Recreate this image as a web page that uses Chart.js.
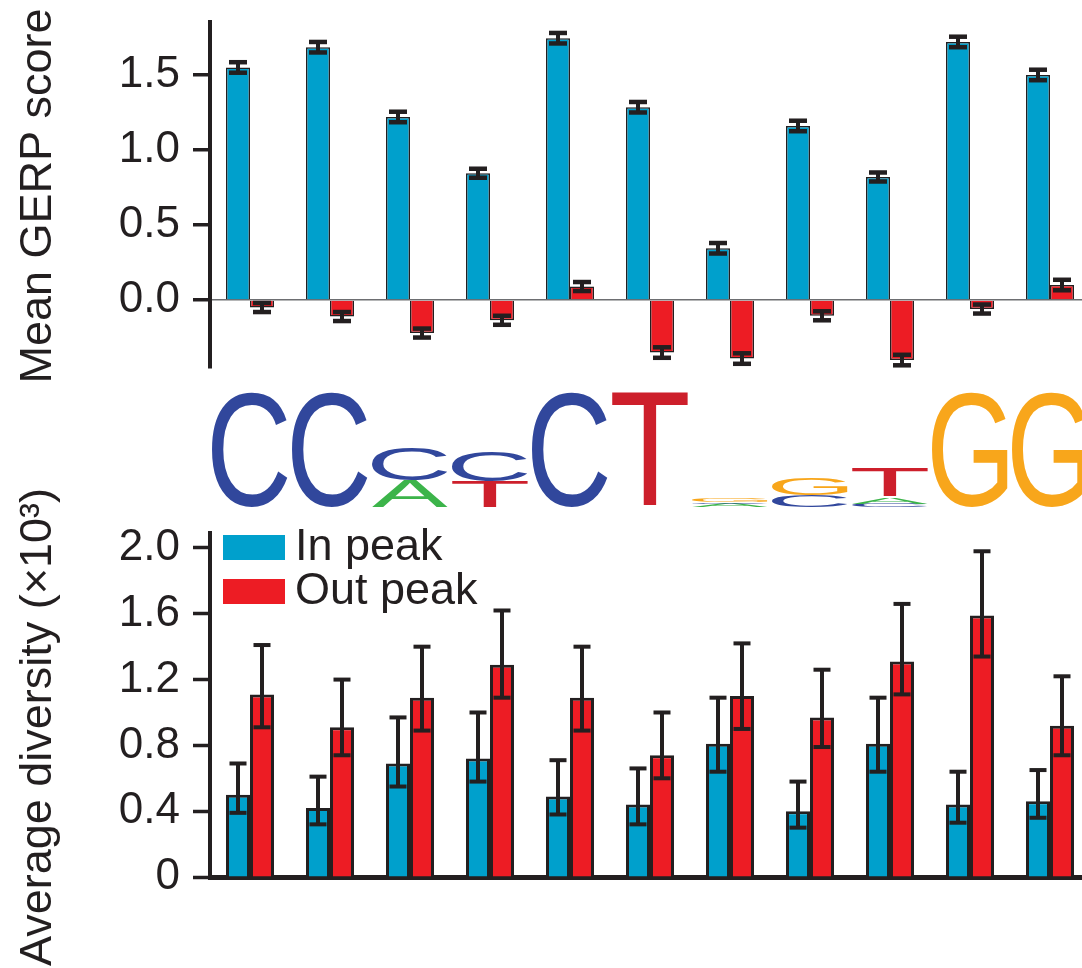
<!DOCTYPE html>
<html>
<head>
<meta charset="utf-8">
<script src="https://cdn.jsdelivr.net/npm/chart.js@4.4.1/dist/chart.umd.min.js"></script>
<style>
  html, body { margin: 0; padding: 0; background: #fff; overflow: hidden; }
  #wrap { position: relative; width: 1090px; height: 968px; }
  #topBox { position: absolute; left: 0; top: 0; width: 1090px; height: 400px; }
  #botBox { position: absolute; left: 0; top: 380px; width: 1090px; height: 588px; }
</style>
</head>
<body>
<div id="wrap">
  <div id="topBox"><canvas id="gerpChart"></canvas></div>
  <div id="botBox"><canvas id="divChart"></canvas></div>
</div>
<script>
// motif positions (11 columns)
const positions = ['1', '2', '3', '4', '5', '6', '7', '8', '9', '10', '11'];

// top panel: mean GERP score
const gerpIn = [1.55, 1.685, 1.22, 0.845, 1.745, 1.285, 0.345, 1.16, 0.82, 1.72, 1.50];
const gerpOut = [-0.05, -0.11, -0.22, -0.135, 0.09, -0.35, -0.39, -0.105, -0.40, -0.06, 0.10];
const gerpInErr = [0.035, 0.035, 0.035, 0.03, 0.035, 0.035, 0.035, 0.035, 0.03, 0.035, 0.035];
const gerpOutErr = [0.03, 0.03, 0.03, 0.03, 0.03, 0.035, 0.035, 0.03, 0.035, 0.03, 0.035];
const gerpTicks = [0, 0.5, 1.0, 1.5];
const gerpTickLabels = ['0.0', '0.5', '1.0', '1.5'];

// bottom panel: average diversity (x10^3) with interval bounds
const divIn = [0.50, 0.42, 0.69, 0.72, 0.49, 0.44, 0.81, 0.40, 0.81, 0.44, 0.46];
const divInLow = [0.39, 0.32, 0.55, 0.58, 0.38, 0.32, 0.64, 0.30, 0.64, 0.33, 0.36];
const divInHigh = [0.69, 0.61, 0.97, 1.00, 0.71, 0.66, 1.09, 0.58, 1.09, 0.64, 0.65];
const divOut = [1.11, 0.91, 1.09, 1.29, 1.09, 0.74, 1.10, 0.97, 1.31, 1.59, 0.92];
const divOutLow = [0.91, 0.74, 0.89, 1.09, 0.89, 0.60, 0.90, 0.79, 1.11, 1.34, 0.74];
const divOutHigh = [1.41, 1.20, 1.40, 1.62, 1.40, 1.00, 1.42, 1.26, 1.66, 1.98, 1.22];
const divTicks = [0, 0.4, 0.8, 1.2, 1.6, 2.0];
const divTickLabels = ['0', '0.4', '0.8', '1.2', '1.6', '2.0'];

// sequence logo, letters bottom to top, heights in bits
const logoLetters = [['C'], ['C'], ['A', 'C'], ['T', 'C'], ['C'], ['T'], ['A', 'C', 'G'], ['C', 'G'], ['C', 'A', 'T'], ['G'], ['G']];
const logoBits = [[2.0], [2.0], [0.47, 0.57], [0.45, 0.52], [2.0], [2.0], [0.06, 0.03, 0.06], [0.2, 0.3], [0.06, 0.12, 0.5], [2.0], [2.0]];
const letterColors = { A: '#3cb44a', C: '#31479c', G: '#f8a61b', T: '#cd1f2b' };

const BLUE = '#00a0cc';
const RED = '#ed1c24';
const INK = '#231f20';
const FONT = '"Liberation Sans", Arial, Helvetica, sans-serif';

function errorBarPlugin(lows, highs, style) {
  return {
    id: 'errorBars',
    afterDatasetsDraw(chart) {
      const ctx = chart.ctx;
      const y = chart.scales.y;
      ctx.save();
      ctx.fillStyle = INK;
      chart.data.datasets.forEach((ds, d) => {
        chart.getDatasetMeta(d).data.forEach((bar, i) => {
          const yHi = y.getPixelForValue(highs[d][i]);
          const yLo = y.getPixelForValue(lows[d][i]);
          ctx.fillRect(bar.x - style.line / 2, yHi, style.line, yLo - yHi);
          ctx.fillRect(bar.x - style.cap / 2, yHi - style.thick / 2, style.cap, style.thick);
          ctx.fillRect(bar.x - style.cap / 2, yLo - style.thick / 2, style.cap, style.thick);
        });
      });
      ctx.restore();
    }
  };
}

function axisTitlePlugin(text, x, y) {
  return {
    id: 'axisTitle',
    afterDraw(chart) {
      const ctx = chart.ctx;
      ctx.save();
      ctx.translate(x, y);
      ctx.rotate(-Math.PI / 2);
      ctx.font = '45px ' + FONT;
      ctx.fillStyle = INK;
      ctx.textAlign = 'center';
      ctx.textBaseline = 'alphabetic';
      ctx.fillText(text, 0, 0);
      ctx.restore();
    }
  };
}

function yAxis(min, max, ticks, labels) {
  return {
    min: min,
    max: max,
    afterBuildTicks: (scale) => { scale.ticks = ticks.map(v => ({ value: v })); },
    afterFit: (scale) => {
      scale.width = 210;
      scale.paddingTop = 0;
      scale.paddingBottom = 0;
    },
    border: { display: true, width: 4, color: INK },
    grid: {
      drawOnChartArea: true,
      color: (c) => (c.tick && c.tick.value === 0 ? '#6d6e71' : 'rgba(0,0,0,0)'),
      lineWidth: 1.5,
      tickLength: 17,
      tickWidth: 3.5,
      tickColor: INK
    },
    ticks: {
      autoSkip: false,
      padding: 13,
      color: INK,
      font: { family: FONT, size: 44 },
      callback: (v, i) => labels[i]
    }
  };
}

const topIn = gerpIn.map((v, i) => v + gerpInErr[i]);
const botIn = gerpIn.map((v, i) => v - gerpInErr[i]);
const topOut = gerpOut.map((v, i) => v + gerpOutErr[i]);
const botOut = gerpOut.map((v, i) => v - gerpOutErr[i]);

new Chart(document.getElementById('gerpChart'), {
  type: 'bar',
  data: {
    labels: positions,
    datasets: [
      { label: 'In peak', data: gerpIn, backgroundColor: BLUE, borderColor: INK, borderWidth: 1.5 },
      { label: 'Out peak', data: gerpOut, backgroundColor: RED, borderColor: INK, borderWidth: 1.5 }
    ]
  },
  options: {
    responsive: true,
    maintainAspectRatio: false,
    animation: false,
    layout: { padding: { top: 22, bottom: 32, left: 0, right: 0 } },
    datasets: { bar: { categoryPercentage: 0.6, barPercentage: 1.0 } },
    plugins: { legend: { display: false }, tooltip: { enabled: false } },
    scales: {
      x: { display: false },
      y: yAxis(-0.453, 1.853, gerpTicks, gerpTickLabels)
    }
  },
  plugins: [
    errorBarPlugin([botIn, botOut], [topIn, topOut], { line: 4, cap: 18, thick: 4.5 }),
    axisTitlePlugin('Mean GERP score', 51, 196)
  ]
});

const logoPlugin = {
  id: 'seqLogo',
  afterDraw(chart) {
    const ctx = chart.ctx;
    const x = chart.scales.x;
    const baseline = 127, pxPerBit = 57, half = 38;
    ctx.save();
    ctx.font = '100px ' + FONT;
    ctx.textAlign = 'left';
    ctx.textBaseline = 'alphabetic';
    logoLetters.forEach((col, i) => {
      const cx = x.getPixelForValue(i);
      let bottom = baseline;
      col.forEach((letter, k) => {
        const h = logoBits[i][k] * pxPerBit;
        const m = ctx.measureText(letter);
        const gw = m.actualBoundingBoxLeft + m.actualBoundingBoxRight;
        const gh = m.actualBoundingBoxAscent + m.actualBoundingBoxDescent;
        const sx = (2 * half) / gw, sy = h / gh;
        ctx.save();
        ctx.translate(cx - half + m.actualBoundingBoxLeft * sx, bottom - m.actualBoundingBoxDescent * sy);
        ctx.scale(sx, sy);
        ctx.fillStyle = letterColors[letter];
        ctx.fillText(letter, 0, 0);
        ctx.restore();
        bottom -= h;
      });
    });
    ctx.restore();
  }
};

const legendPlugin = {
  id: 'boxLegend',
  afterDraw(chart) {
    const ctx = chart.ctx;
    const a = chart.chartArea;
    ctx.save();
    ctx.font = '45px ' + FONT;
    ctx.textBaseline = 'alphabetic';
    chart.data.datasets.forEach((ds, i) => {
      const top = a.top + 2 + i * 44;
      ctx.fillStyle = ds.backgroundColor;
      ctx.fillRect(a.left + 13, top, 62, 25);
      ctx.fillStyle = INK;
      ctx.fillText(ds.label, a.left + 85, top + 25);
    });
    ctx.restore();
  }
};

new Chart(document.getElementById('divChart'), {
  type: 'bar',
  data: {
    labels: positions,
    datasets: [
      { label: 'In peak', data: divIn, backgroundColor: BLUE, borderColor: INK, borderWidth: 3 },
      { label: 'Out peak', data: divOut, backgroundColor: RED, borderColor: INK, borderWidth: 3 }
    ]
  },
  options: {
    responsive: true,
    maintainAspectRatio: false,
    animation: false,
    layout: { padding: { top: 153, bottom: 91, left: 0, right: 0 } },
    datasets: { bar: { categoryPercentage: 0.6, barPercentage: 1.0 } },
    plugins: { legend: { display: false }, tooltip: { enabled: false } },
    scales: {
      x: {
        afterFit: (scale) => { scale.height = 0; },
        border: { display: true, width: 5, color: INK },
        grid: { drawOnChartArea: false, drawTicks: false },
        ticks: { display: false }
      },
      y: Object.assign(yAxis(0, 2.091, divTicks, divTickLabels), {
        grid: { drawOnChartArea: false, tickLength: 17, tickWidth: 3.5, tickColor: INK }
      })
    }
  },
  plugins: [
    errorBarPlugin([divInLow, divOutLow], [divInHigh, divOutHigh], { line: 4, cap: 17, thick: 4 }),
    logoPlugin,
    legendPlugin,
    axisTitlePlugin('Average diversity (\u00d710\u00b3)', 51, 347)
  ]
});
</script>
</body>
</html>
